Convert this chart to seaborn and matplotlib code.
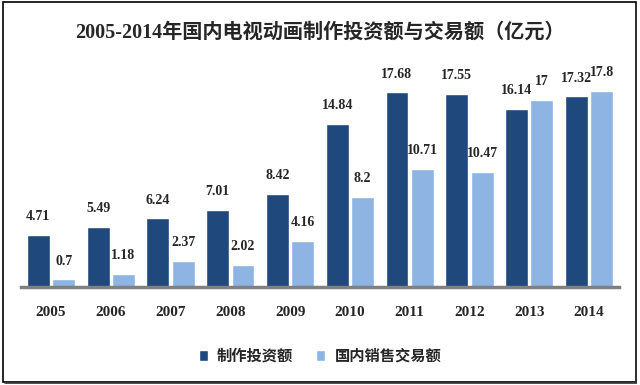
import pandas as pd
import seaborn as sns
import matplotlib.pyplot as plt
from matplotlib.patches import Rectangle

# ---DATA-----------------------------------------------------------------------
years = ["2005", "2006", "2007", "2008", "2009", "2010", "2011", "2012", "2013", "2014"]
invest = [4.71, 5.49, 6.24, 7.01, 8.42, 14.84, 17.68, 17.55, 16.14, 17.32]
trade = [0.7, 1.18, 2.37, 2.02, 4.16, 8.2, 10.71, 10.47, 17, 17.8]
series_names = ["制作投资额", "国内销售交易额"]
title = "2005-2014年国内电视动画制作投资额与交易额（亿元）"

dark = "#1F497D"
light = "#8DB4E2"
fam = ["Liberation Serif", "Noto Sans CJK SC"]

# ---PLOT-----------------------------------------------------------------------
sns.set_theme(style="white")
plt.rcParams["font.family"] = fam

df = pd.DataFrame({
    "year": years * 2,
    "value": invest + trade,
    "series": [series_names[0]] * len(years) + [series_names[1]] * len(years),
})

fig = plt.figure(figsize=(6.4, 3.85), dpi=100)
ax = fig.add_axes([0.033, 0.2545, 0.934, 0.572])

sns.barplot(data=df, x="year", y="value", hue="series", palette=[dark, light],
            width=0.85, gap=0.1, saturation=1, ax=ax)

for cont, vals in zip(ax.containers, [invest, trade]):
    ax.bar_label(cont, labels=["%g" % v for v in vals], padding=8.5,
                 fontsize=10, fontweight="bold", family=fam)

ax.set_ylim(0, 20)
ax.set_xlim(-0.5, len(years) - 0.5)
ax.set_xlabel("")
ax.set_ylabel("")
ax.set_yticks([])
for s in ["top", "right", "left"]:
    ax.spines[s].set_visible(False)
ax.spines["bottom"].set_color("#808080")
ax.spines["bottom"].set_linewidth(2.5)
ax.tick_params(axis="x", length=0, pad=14)
for t in ax.get_xticklabels():
    t.set_fontsize(11)
    t.set_fontweight("bold")

leg = ax.legend(loc="center", bbox_to_anchor=(0.5, 0.074), bbox_transform=fig.transFigure,
                ncol=2, frameon=False, handlelength=0.6, handleheight=0.7,
                columnspacing=1.5, handletextpad=0.6,
                prop={"family": fam, "weight": "bold", "size": 11})

fig.text(0.5, 0.915, title, ha="center", va="center", fontsize=14.5,
         fontweight="bold", family=fam)

# border box with a slight shadow on right/bottom
fig.patches.append(Rectangle((0.005, 0.008), 0.988, 0.986, transform=fig.transFigure,
                             fill=False, ec="black", lw=1.2))
fig.add_artist(plt.Line2D([0.994, 0.994], [0.006, 0.99], transform=fig.transFigure,
                          color="#333333", lw=1.2))
fig.add_artist(plt.Line2D([0.008, 0.994], [0.006, 0.006], transform=fig.transFigure,
                          color="#333333", lw=1.2))

plt.savefig("out.png", dpi=100)
